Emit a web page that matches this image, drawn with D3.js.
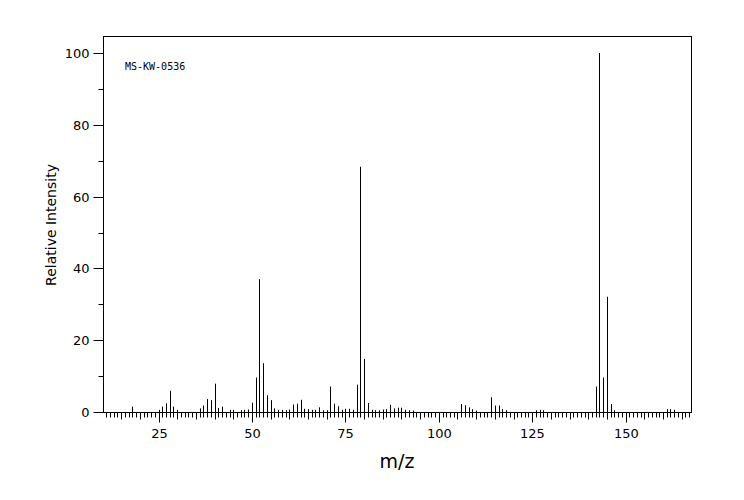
<!DOCTYPE html>
<html>
<head>
<meta charset="utf-8">
<script src="https://cdn.jsdelivr.net/npm/d3@7"></script>
<style>
    body { margin: 0; background: #fff; }
    svg { display: block; }
</style>
</head>
<body>
<div id="container"></div>
<script>
// m/z values and their relative intensities
const mz = [
    18, 25, 26, 27, 28, 29, 30,
    36, 37, 38, 39, 40, 41, 42, 44, 45, 47, 48, 49,
    50, 51, 52, 53, 54, 55, 56, 57, 58, 59, 60,
    61, 62, 63, 64, 65, 66, 67, 68, 69, 70,
    71, 72, 73, 74, 75, 76, 77, 78, 79, 80, 81, 82, 83, 84, 85, 86,
    87, 88, 89, 90, 91, 92, 93,
    106, 107, 108, 109, 110,
    114, 115, 116, 117, 118, 126, 127, 128,
    142, 143, 144, 145, 146, 147,
    161, 162, 163
];
const intensity = [
    1.5, 0.6, 1.5, 2.4, 5.9, 1.5, 0.6,
    1.0, 1.8, 3.6, 3.3, 7.9, 1.1, 1.5, 0.6, 0.6, 0.5, 0.6, 0.7,
    2.6, 9.6, 37.0, 13.6, 4.7, 3.3, 1.0, 0.6, 0.6, 0.5, 0.7,
    2.1, 2.3, 3.4, 0.9, 0.8, 0.6, 0.6, 1.3, 0.5, 0.5,
    7.1, 2.3, 1.6, 0.6, 0.9, 0.9, 0.6, 7.6, 68.3, 14.8, 2.5, 0.6, 0.5, 0.5, 0.7, 0.8,
    2.0, 1.0, 1.2, 1.2, 0.6, 0.5, 0.4,
    2.2, 1.9, 1.3, 0.8, 0.4,
    4.1, 1.8, 1.8, 0.8, 0.5, 0.5, 0.6, 0.5,
    7.1, 100, 9.6, 32.1, 2.2, 0.5,
    0.8, 0.8, 0.6
];
const xTickLabels = [25, 50, 75, 100, 125, 150];
const yTickLabels = [0, 20, 40, 60, 80, 100];
const sampleId = "MS-KW-0536";

const width = 744, height = 500;
const plotLeft = 103, plotRight = 691, plotTop = 36, plotBottom = 412;

const x = d3.scaleLinear().domain([10, 167.5]).range([102.5, 691]);
const y = d3.scaleLinear().domain([0, 100]).range([plotBottom, 53]);

const svg = d3.select("#container").append("svg")
    .attr("width", width)
    .attr("height", height);

// frame
svg.append("rect")
    .attr("x", plotLeft + 0.5).attr("y", plotTop + 0.5)
    .attr("width", plotRight - plotLeft).attr("height", plotBottom - plotTop)
    .attr("fill", "none")
    .attr("stroke", "#000");

// x axis: a tick per unit, longer every 5, longest every 25
const xTicks = d3.range(11, 168);
const xAxis = svg.append("g").attr("transform", `translate(0,${plotBottom + 0.5})`);
xAxis.selectAll("line")
    .data(xTicks)
    .join("line")
    .attr("x1", d => Math.round(x(d)) + 0.5)
    .attr("x2", d => Math.round(x(d)) + 0.5)
    .attr("y1", 0)
    .attr("y2", d => d % 25 === 0 ? 10 : d % 5 === 0 ? 7 : 5)
    .attr("stroke", "#000");
xAxis.selectAll("text")
    .data(xTickLabels)
    .join("text")
    .attr("x", d => Math.round(x(d)) + 0.5)
    .attr("y", 25)
    .attr("text-anchor", "middle")
    .attr("font-family", "DejaVu Sans")
    .attr("font-size", 13)
    .text(d => d);

// y axis
const yAxis = svg.append("g").attr("transform", `translate(${plotLeft + 0.5},0)`);
yAxis.selectAll("line")
    .data(d3.range(0, 101, 10))
    .join("line")
    .attr("x1", d => d % 20 === 0 ? -10 : -5)
    .attr("x2", 0)
    .attr("y1", d => Math.round(y(d)) + 0.5)
    .attr("y2", d => Math.round(y(d)) + 0.5)
    .attr("stroke", "#000");
yAxis.selectAll("text")
    .data(yTickLabels)
    .join("text")
    .attr("x", -14)
    .attr("y", d => Math.round(y(d)) + 5)
    .attr("text-anchor", "end")
    .attr("font-family", "DejaVu Sans")
    .attr("font-size", 13)
    .text(d => d);

// peaks
svg.append("g")
    .selectAll("line")
    .data(mz.map((m, i) => ({ m, v: intensity[i] })))
    .join("line")
    .attr("x1", d => Math.round(x(d.m)) + 0.5)
    .attr("x2", d => Math.round(x(d.m)) + 0.5)
    .attr("y1", y(0))
    .attr("y2", d => y(d.v))
    .attr("stroke", "#000")
    .attr("stroke-width", 1);

// labels
svg.append("text")
    .attr("x", 397).attr("y", 468)
    .attr("text-anchor", "middle")
    .attr("font-family", "DejaVu Sans")
    .attr("font-size", 19)
    .text("m/z");

svg.append("text")
    .attr("transform", `translate(56,225) rotate(-90)`)
    .attr("text-anchor", "middle")
    .attr("font-family", "DejaVu Sans")
    .attr("font-size", 14)
    .text("Relative Intensity");

svg.append("text")
    .attr("x", 125).attr("y", 70)
    .attr("font-family", "DejaVu Sans Mono")
    .attr("font-size", 10)
    .text(sampleId);
</script>
</body>
</html>
